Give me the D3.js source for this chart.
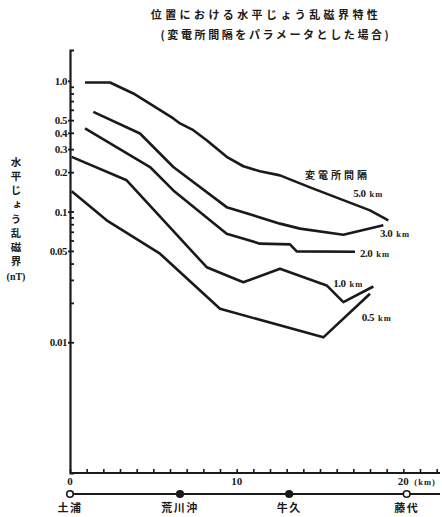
<!DOCTYPE html>
<html><head><meta charset="utf-8">
<script src="https://cdn.jsdelivr.net/npm/d3@7"></script>
<style>
body{margin:0;background:#fff;}
svg{display:block;}
.jp{font-family:"Noto Sans CJK JP","Noto Sans",sans-serif;font-weight:700;fill:#1a1a1a;}
.num{font-family:"Liberation Serif","DejaVu Serif",serif;font-weight:700;fill:#1a1a1a;}
</style></head>
<body>
<svg id="c" width="442" height="517"></svg>
<script>
// ---- data ----
const seriesNames = ["5.0 km","3.0 km","2.0 km","1.0 km","0.5 km"];
const km50  = [0.9,2.4,3.8,6.2,6.6,7.4,8.2,9.4,10.4,11.4,12.6,14.4,18.0,19.1];
const val50 = [0.97,0.97,0.80,0.515,0.472,0.419,0.351,0.262,0.222,0.203,0.189,0.153,0.102,0.0857];
const km30  = [1.4,4.2,6.2,9.4,12.6,13.8,16.4,18.8];
const val30 = [0.579,0.395,0.219,0.108,0.0808,0.074,0.0665,0.0784];
const km20  = [0.9,4.8,6.2,9.4,11.4,13.2,13.6,17.1];
const val20 = [0.432,0.219,0.145,0.0677,0.0568,0.0561,0.0496,0.0493];
const km10  = [0.1,3.4,8.2,10.4,12.6,15.4,16.4,18.2];
const val10 = [0.2616,0.1734,0.0375,0.0288,0.0365,0.0272,0.0203,0.0267];
const km05  = [0.1,2.2,5.4,9.0,15.2,18.0];
const val05 = [0.1428,0.0856,0.0476,0.01803,0.0109,0.0235];
const labelKm  = [17.0,18.6,17.4,15.8,17.5];
const labelVal = [0.138,0.068,0.0478,0.0285,0.0157];
const legendTitle = "変電所間隔";
const legendKm = 14.1, legendVal = 0.189;

const yLabelTicks = [1.0,0.5,0.4,0.3,0.2,0.1,0.05,0.01];
const yLabelText  = ["1.0","0.5","0.4","0.3","0.2","0.1","0.05","0.01"];
const yMinorTicks = [0.9,0.8,0.7,0.6,0.5,0.4,0.3,0.2,0.1,0.09,0.08,0.07,0.06,0.05,0.04,0.03,0.02,0.01];
const xMajor = [0,10,20];
const xMinor = d3.range(0,23,1);
const stationNames = ["土浦","荒川沖","牛久","藤代"];
const stationKm    = [0,6.6,13.15,20.2];
const stationOpen  = [true,false,false,true];
const title1 = "位置における水平じょう乱磁界特性";
const title2 = "(変電所間隔をパラメータとした場合)";
const yTitle = "水平じょう乱磁界";
const yUnit = "(nT)";

// ---- scales ----
const svg = d3.select("#c");
const x = d3.scaleLinear().domain([0,22.2]).range([70,440]);
const y = d3.scaleLog().domain([0.001,1.72]).range([473,50]);
const ink = "#1a1a1a";

// titles
svg.append("text").attr("class","jp").attr("x",266).attr("y",19)
  .attr("text-anchor","middle").attr("font-size",11).attr("letter-spacing",3.4).text(title1);
svg.append("text").attr("class","jp").attr("x",276).attr("y",39)
  .attr("text-anchor","middle").attr("font-size",11).attr("letter-spacing",2.6).text(title2);

// y axis: line + inward ticks
const yTicksAxis = d3.axisRight(y).tickValues(yMinorTicks).tickSize(4).tickFormat("");
const gy = svg.append("g").attr("transform","translate(70,0)").call(yTicksAxis);
gy.select(".domain").attr("stroke",ink).attr("stroke-width",2.2);
gy.selectAll(".tick line").attr("stroke",ink).attr("stroke-width",1.8);

const yLab = d3.axisLeft(y).tickValues(yLabelTicks).tickSize(2)
  .tickFormat((d,i)=>yLabelText[i]);
const gyl = svg.append("g").attr("transform","translate(70,0)").call(yLab);
gyl.select(".domain").remove();
gyl.selectAll(".tick line").attr("stroke",ink).attr("stroke-width",1.8);
gyl.selectAll(".tick text").attr("class","num").attr("font-size",11).attr("x",-3)
  .attr("letter-spacing",-0.5);

// y title (vertical)
svg.append("text").attr("class","jp").attr("x",16).attr("y",157)
  .attr("font-size",10.5).attr("letter-spacing",3.6)
  .style("writing-mode","vertical-rl").style("text-orientation","upright")
  .text(yTitle);
svg.append("text").attr("class","num").attr("x",16).attr("y",280)
  .attr("text-anchor","middle").attr("font-size",10).text(yUnit);

// x axis
const xAx = d3.axisBottom(x).tickValues(xMinor).tickSize(-4).tickFormat("");
const gx = svg.append("g").attr("transform","translate(0,473)").call(xAx);
gx.select(".domain").attr("stroke",ink).attr("stroke-width",2.2).attr("d","M70,0H440");
gx.selectAll(".tick line").attr("stroke",ink).attr("stroke-width",1.6);
svg.append("g").selectAll("text").data(xMajor).join("text").attr("class","num")
  .attr("x",d=>x(d)).attr("y",485).attr("text-anchor","middle").attr("font-size",11)
  .text(d=>d);
svg.append("text").attr("class","num").attr("x",x(20)+11).attr("y",485)
  .attr("font-size",8.5).attr("letter-spacing",1).text("(km)");

// station line
svg.append("line").attr("x1",x(0)).attr("x2",440).attr("y1",494).attr("y2",494)
  .attr("stroke",ink).attr("stroke-width",1.8);
svg.append("g").selectAll("circle").data(stationKm).join("circle")
  .attr("cx",d=>x(d)).attr("cy",494).attr("r",3.3)
  .attr("fill",(d,i)=>stationOpen[i]?"#fff":ink).attr("stroke",ink).attr("stroke-width",1.6);
svg.append("g").selectAll("text").data(stationNames).join("text").attr("class","jp")
  .attr("x",(d,i)=>x(stationKm[i])).attr("y",512).attr("text-anchor","middle")
  .attr("font-size",11).attr("letter-spacing",1.5).text(d=>d);

// curves
const allKm = [km50,km30,km20,km10,km05];
const allVal = [val50,val30,val20,val10,val05];
const line = d3.line().x(d=>x(d[0])).y(d=>y(d[1]));
allKm.forEach((ks,j)=>{
  const pts = ks.map((k,i)=>[k,allVal[j][i]]);
  svg.append("path").datum(pts).attr("d",line).attr("fill","none")
    .attr("stroke",ink).attr("stroke-width",2.6).attr("stroke-linejoin","round");
});

// labels
svg.append("text").attr("class","jp").attr("x",x(legendKm)).attr("y",y(legendVal)+4)
  .attr("font-size",10).attr("letter-spacing",3).text(legendTitle);
seriesNames.forEach((s,i)=>{
  const parts = s.split(" ");
  const t = svg.append("text").attr("x",x(labelKm[i])).attr("y",y(labelVal[i])+4);
  t.append("tspan").attr("class","num").attr("font-size",11).attr("letter-spacing",-0.5).text(parts[0]);
  t.append("tspan").attr("class","num").attr("font-size",8.5).attr("dx",4).attr("letter-spacing",1).text(parts[1]);
});
</script>
</body></html>
